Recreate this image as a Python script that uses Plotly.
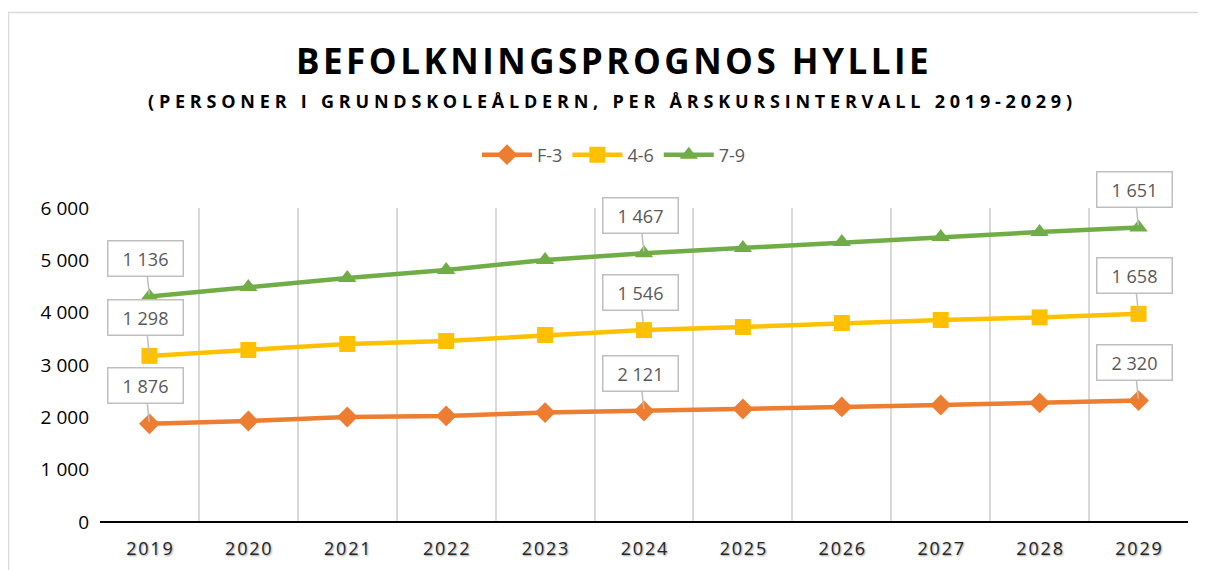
import numpy as np
import plotly.graph_objects as go

years = [2019, 2020, 2021, 2022, 2023, 2024, 2025, 2026, 2027, 2028, 2029]
f3 = [1876, 1930, 2006, 2026, 2090, 2121, 2159, 2198, 2236, 2275, 2320]
g46 = [1298, 1357, 1395, 1433, 1483, 1546, 1567, 1605, 1624, 1635, 1658]
g79 = [1136, 1204, 1262, 1357, 1434, 1467, 1510, 1548, 1586, 1632, 1651]
series_names = ["F-3", "4-6", "7-9"]
label_years = [2019, 2024, 2029]
ytick_vals = [0, 1000, 2000, 3000, 4000, 5000, 6000]

colors = ["#ED7D31", "#FFC000", "#70AD47"]
symbols = ["diamond", "square", "triangle-up"]

vals = [list(f3), list(g46), list(g79)]
cum = np.cumsum(np.array(vals, dtype=float), axis=0).tolist()

def fmt(v):
    return f"{int(round(v)):,}".replace(",", " ")

# page body has an 8px offset; work in viewport pixels and convert
OFF = 8
W, H = 1206 - OFF, 570 - OFF
L, T = 100 - OFF, 208 - OFF
pw, ph = 1088, 314
R, B = W - L - pw, H - T - ph
def px(x):
    return (x - OFF - L) / pw
def py(y):
    return (H - B - (y - OFF)) / ph

fig = go.Figure()
for i, name in enumerate(series_names):
    fig.add_trace(go.Scatter(
        x=years, y=cum[i], name=name, mode="lines+markers",
        line=dict(color=colors[i], width=4.5),
        marker=dict(symbol=symbols[i], size=16, color=colors[i]),
    ))

annotations = []
for i in range(3):
    for yr in label_years:
        k = years.index(yr)
        annotations.append(dict(
            x=yr, y=cum[i][k], xref="x", yref="y",
            text=fmt(vals[i][k]), showarrow=True, arrowhead=0,
            arrowcolor="#bfbfbf", arrowwidth=1.5, ax=-4, ay=-38,
            standoff=2, bgcolor="white", bordercolor="#bfbfbf",
            borderwidth=1.5, borderpad=5, width=64,
            font=dict(family="Open Sans, Liberation Sans, sans-serif", size=18, color="#595959"),
        ))

title = "BEFOLKNINGSPROGNOS HYLLIE"
annotations.append(dict(
    xref="paper", yref="paper", x=px(612), y=py(60), xanchor="center", yanchor="middle",
    text="<b>" + "\u200a".join(title) + "</b>", showarrow=False,
    font=dict(family="Open Sans, sans-serif", size=35, color="#000000"),
))
sub = "(PERSONER I GRUNDSKOLEÅLDERN, PER ÅRSKURSINTERVALL 2019-2029)"
annotations.append(dict(
    xref="paper", yref="paper", x=px(610), y=py(101), xanchor="center", yanchor="middle",
    text="<b>" + "\u2009\u200a".join(sub) + "</b>", showarrow=False,
    font=dict(family="Open Sans, sans-serif", size=18, color="#000000"),
))

fig.update_layout(
    width=W, height=H,
    margin=dict(l=L, r=R, t=T, b=B, autoexpand=False),
    paper_bgcolor="white", plot_bgcolor="white",
    showlegend=True,
    legend=dict(orientation="h", x=px(614), xanchor="center", y=py(155), yanchor="middle",
                font=dict(family="Open Sans, sans-serif", size=18, color="#595959"),
                itemwidth=50, tracegroupgap=0),
    annotations=annotations,
    shapes=[dict(type="rect", xref="paper", yref="paper",
                 x0=px(8.5), x1=px(1225), y0=py(12.5), y1=py(600),
                 line=dict(color="#d9d9d9", width=1.5), fillcolor="rgba(0,0,0,0)", layer="below")],
    xaxis=dict(range=[years[0] - 0.5, years[-1] + 0.5], showgrid=False, zeroline=False,
               showline=False, ticks="", automargin=False,
               tickvals=years, ticktext=["\u200a".join(str(y)) for y in years],
               tickfont=dict(family="Open Sans, sans-serif", size=18, color="#262626",
                             shadow="1px 1px 2px #999"),
               ticklabelstandoff=14,
               minor=dict(tickvals=[y - 0.5 for y in years] + [years[-1] + 0.5],
                          showgrid=True, gridcolor="#d9d9d9", gridwidth=1.5, ticks=""),
               fixedrange=True),
    yaxis=dict(range=[0, 6000], tickvals=ytick_vals, ticktext=[fmt(v) for v in ytick_vals],
               showgrid=False, zeroline=True, zerolinecolor="#000000", zerolinewidth=2,
               showline=False, ticks="", automargin=False,
               tickfont=dict(family="Open Sans, sans-serif", size=19, color="#000000"),
               ticklabelstandoff=10, fixedrange=True),
)

fig.write_html("out.html")
